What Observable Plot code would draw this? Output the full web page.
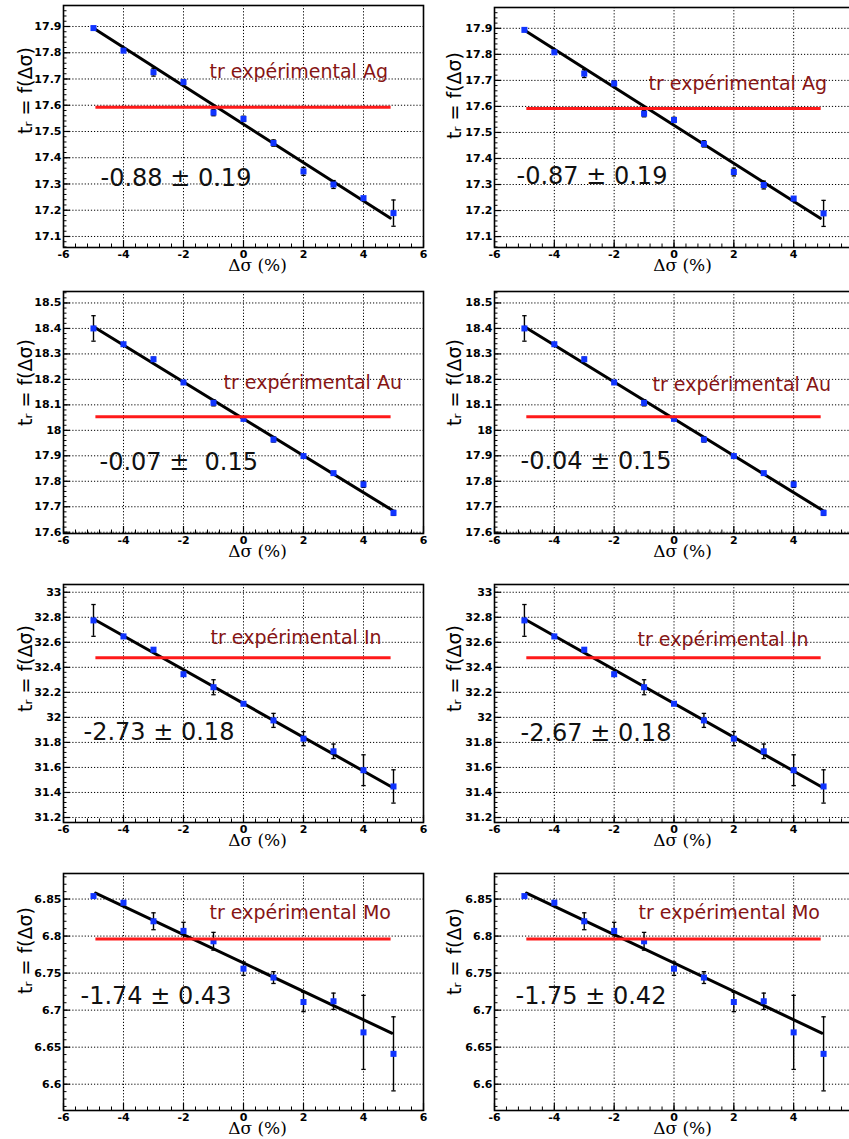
<!DOCTYPE html>
<html><head><meta charset="utf-8">
<script src="https://cdn.jsdelivr.net/npm/d3@7"></script>
<script src="https://cdn.jsdelivr.net/npm/@observablehq/plot@0.6"></script>
<style>
body{margin:0;background:#fff}
#root{position:relative;width:849px;height:1139px;overflow:hidden;background:#fff}
.cell{position:absolute}
.cell svg{max-width:none !important;display:block}
g[aria-label="exp-label"] text{letter-spacing:1px}
g[aria-label="fit-label"] text{letter-spacing:0.6px}
g[aria-label="x-title"] text{letter-spacing:1px}
</style></head><body><div id="root"></div><script>
// ---- data ----
const deltaSigma = [-5, -4, -3, -2, -1, 0, 1, 2, 3, 4, 5];
const xMajor = [-6, -4, -2, 0, 2, 4, 6];

const agY   = [17.894, 17.808, 17.726, 17.688, 17.572, 17.548, 17.456, 17.348, 17.298, 17.246, 17.189];
const agErr = [0.004, 0.004, 0.015, 0.010, 0.012, 0.010, 0.012, 0.015, 0.015, 0.004, 0.050];
const auY   = [18.400, 18.338, 18.279, 18.188, 18.108, 18.045, 17.964, 17.899, 17.832, 17.788, 17.676];
const auErr = [0.050, 0.006, 0.008, 0.005, 0.012, 0.005, 0.010, 0.005, 0.005, 0.012, 0.010];
const inY   = [32.775, 32.647, 32.541, 32.345, 32.241, 32.109, 31.976, 31.830, 31.729, 31.578, 31.448];
const inErr = [0.127, 0.010, 0.015, 0.015, 0.060, 0.012, 0.056, 0.056, 0.058, 0.123, 0.133];
const moY   = [6.854, 6.845, 6.820, 6.807, 6.793, 6.756, 6.744, 6.711, 6.712, 6.670, 6.641];
const moErr = [0.002, 0.003, 0.0114, 0.0116, 0.012, 0.009, 0.008, 0.013, 0.011, 0.050, 0.050];

const agFitX = [-4.97, 4.89], agFitY = [17.891, 17.170];
const auFitX = [-4.97, 4.95], auFitY = [18.405, 17.687];
const inFitX = [-4.97, 4.97], inFitY = [32.782, 31.440];
const moFitX = [-4.93, 4.94], moFitY = [6.858, 6.669];

const expLineX = [-4.92, 4.92];
const agExp = 17.592, auExp = 18.053, inExp = 32.477, moExp = 6.796;

const agTicks = [17.1, 17.2, 17.3, 17.4, 17.5, 17.6, 17.7, 17.8, 17.9];
const auTicks = [17.6, 17.7, 17.8, 17.9, 18, 18.1, 18.2, 18.3, 18.4, 18.5];
const inTicks = [31.2, 31.4, 31.6, 31.8, 32, 32.2, 32.4, 32.6, 32.8, 33];
const moTicks = [6.6, 6.65, 6.7, 6.75, 6.8, 6.85];

const expLabels = ["tr expérimental Ag", "tr expérimental Au", "tr expérimental In", "tr expérimental Mo"];
const fitLabels = ["-0.88 ± 0.19", "-0.87 ± 0.19", "-0.07 ±\u00a0 0.15", "-0.04 ± 0.15",
                   "-2.73 ± 0.18", "-2.67 ± 0.18", "-1.74 ± 0.43", "-1.75 ± 0.42"];
const yTitle = "tᵣ = f(Δσ)";
const xTitle = "Δσ (%)";

// ---- layout ----
const rows = [
  {top: 0,   height: 285, mt: [5, 7], mb: 38, yDomain: [17.058, 17.98],  ticks: agTicks, minor: 0.02, y: agY, err: agErr, fx: agFitX, fy: agFitY, exp: agExp, yTitleY: [90, 95]},
  {top: 285, height: 285, mt: [6, 6], mb: 37, yDomain: [17.595, 18.545], ticks: auTicks, minor: 0.02, y: auY, err: auErr, fx: auFitX, fy: auFitY, exp: auExp, yTitleY: [382, 382]},
  {top: 570, height: 290, mt: [14, 14], mb: 38, yDomain: [31.16, 33.062], ticks: inTicks, minor: 0.04, y: inY, err: inErr, fx: inFitX, fy: inFitY, exp: inExp, yTitleY: [668, 668]},
  {top: 860, height: 279, mt: [13, 13], mb: 29, yDomain: [6.5645, 6.8845], ticks: moTicks, minor: 0.01, y: moY, err: moErr, fx: moFitX, fy: moFitY, exp: moExp, yTitleY: [950, 951]}
];
const cols = [
  {left: 0,   width: 430, ml: 63, mr: 7, yTitleX: 31,  xTitleX: 257},
  {left: 425, width: 430, ml: 69, mr: 2, yTitleX: 460, xTitleX: 682}
];
// global positions (left, baseline) of annotation texts
const expPos = [[209, 77], [648, 89], [223, 388], [652, 390], [210, 643], [637, 645], [209, 918], [638, 918]];
const fitPos = [[100, 185], [516, 183], [99, 469], [520, 468], [83, 739], [520, 740], [80, 1003], [515, 1003]];

const capSymbol = {draw(ctx) { ctx.moveTo(-2.2, 0); ctx.lineTo(2.2, 0); }};
const xMinor = d3.range(-6, 6.001, 0.4).map(v => +v.toFixed(2));

const root = document.getElementById("root");

rows.forEach((r, ri) => {
  cols.forEach((c, ci) => {
    const idx = ri * 2 + ci;
    const mt = r.mt[ci];
    const fw = c.width - c.ml - c.mr;
    const fh = r.height - mt - r.mb;
    const frameL = c.left + c.ml, frameT = r.top + mt;
    const pts = deltaSigma.map((x, i) => ({x, y: r.y[i], lo: r.y[i] - r.err[i], hi: r.y[i] + r.err[i]}));
    const fit = r.fx.map((x, i) => ({x, y: r.fy[i]}));
    const yMinor = d3.range(Math.ceil(r.yDomain[0] / r.minor) * r.minor, r.yDomain[1], r.minor).map(v => +v.toFixed(3));
    const [ex, ey] = expPos[idx];
    const [nx, ny] = fitPos[idx];
    const dotted = {stroke: "black", strokeOpacity: 1, strokeWidth: 1, strokeDasharray: "1.2,1.9"};
    const chart = Plot.plot({
      width: c.width, height: r.height,
      marginLeft: c.ml, marginRight: c.mr, marginTop: mt, marginBottom: r.mb,
      x: {domain: [-6, 6], axis: null},
      y: {domain: r.yDomain, axis: null},
      style: {background: "transparent", overflow: "visible"},
      marks: [
        Plot.gridX(xMajor, dotted),
        Plot.gridY(r.ticks, dotted),
        Plot.tickX(xMinor, {x: d => d, insetTop: fh - 3.5, stroke: "black", strokeWidth: 1}),
        Plot.tickX(xMajor, {x: d => d, insetTop: fh - 7, stroke: "black", strokeWidth: 1.2}),
        Plot.tickY(yMinor, {y: d => d, insetRight: fw - 3.5, stroke: "black", strokeWidth: 1}),
        Plot.tickY(r.ticks, {y: d => d, insetRight: fw - 7, stroke: "black", strokeWidth: 1.2}),
        Plot.axisX(xMajor, {anchor: "bottom", tickSize: 0, tickPadding: 3, label: null, tickFormat: d => String(d),
          fontFamily: "DejaVu Sans", fontWeight: "bold", fontSize: 11, fill: "black"}),
        Plot.axisY(r.ticks, {anchor: "left", tickSize: 0, tickPadding: 2, label: null, tickFormat: d => String(d),
          fontFamily: "DejaVu Sans", fontWeight: "bold", fontSize: 11, fill: "black"}),
        Plot.line(fit, {x: "x", y: "y", stroke: "black", strokeWidth: 3}),
        Plot.ruleX(pts, {x: "x", y1: "lo", y2: "hi", stroke: "black", strokeWidth: 1.4}),
        Plot.dot(pts, {x: "x", y: "lo", symbol: capSymbol, stroke: "black", strokeWidth: 1.3, fill: "none"}),
        Plot.dot(pts, {x: "x", y: "hi", symbol: capSymbol, stroke: "black", strokeWidth: 1.3, fill: "none"}),
        Plot.dot(pts, {x: "x", y: "y", symbol: "square", r: 3.4, fill: "#1034ff", stroke: "none"}),
        Plot.ruleY([{y: r.exp, x1: expLineX[0], x2: expLineX[1]}], {y: "y", x1: "x1", x2: "x2", stroke: "#ff1a1a", strokeWidth: 3}),
        Plot.text([expLabels[ri]], {text: d => d, frameAnchor: "top-left", dx: ex - frameL, dy: ey - frameT,
          textAnchor: "start", lineAnchor: "bottom", fill: "#861414", fontFamily: "DejaVu Sans", fontSize: 19, ariaLabel: "exp-label"}),
        Plot.text([fitLabels[idx]], {text: d => d, frameAnchor: "top-left", dx: nx - frameL, dy: ny - frameT,
          textAnchor: "start", lineAnchor: "bottom", fill: "#111", fontFamily: "DejaVu Sans", fontSize: 24, ariaLabel: "fit-label"}),
        Plot.text([yTitle], {text: d => d, frameAnchor: "top-left", dx: c.yTitleX - frameL, dy: r.yTitleY[ci] - frameT,
          rotate: -90, textAnchor: "middle", lineAnchor: "bottom", fill: "black", fontFamily: "DejaVu Sans", fontSize: 19, ariaLabel: "y-title"}),
        Plot.text([xTitle], {text: d => d, frameAnchor: "top-left", dx: c.xTitleX - frameL, dy: fh + 23,
          textAnchor: "middle", lineAnchor: "bottom", fill: "black", fontFamily: "DejaVu Serif", fontSize: 17, ariaLabel: "x-title"}),
        Plot.frame({stroke: "black", strokeWidth: 1.6})
      ]
    });
    const cell = document.createElement("div");
    cell.className = "cell";
    cell.style.left = c.left + "px";
    cell.style.top = r.top + "px";
    cell.style.width = c.width + "px";
    cell.style.height = r.height + "px";
    cell.appendChild(chart);
    root.appendChild(cell);
  });
});
</script></body></html>
